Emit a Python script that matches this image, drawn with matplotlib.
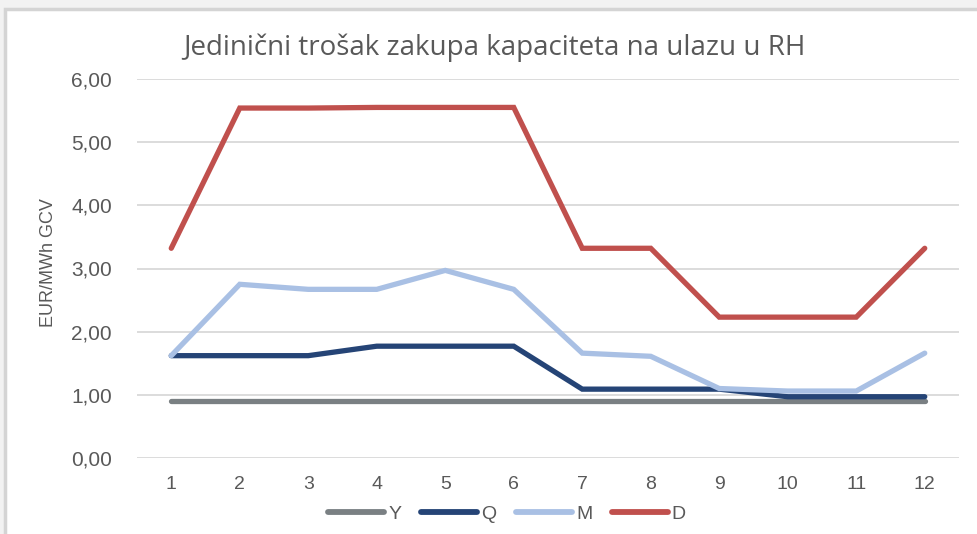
import matplotlib.pyplot as plt
from matplotlib.patches import Rectangle

months = list(range(1, 13))
month_labels = [str(m) for m in months]
y_vals = [0.91] * 12
q_vals = [1.62, 1.62, 1.62, 1.77, 1.77, 1.77, 1.09, 1.09, 1.09, 0.97, 0.97, 0.97]
m_vals = [1.62, 2.75, 2.67, 2.67, 2.97, 2.67, 1.66, 1.61, 1.10, 1.06, 1.06, 1.66]
d_vals = [3.32, 5.54, 5.54, 5.55, 5.55, 5.55, 3.32, 3.32, 2.23, 2.23, 2.23, 3.32]

series = [("Y", y_vals, "#7a8083"), ("Q", q_vals, "#254476"),
          ("M", m_vals, "#a9c0e4"), ("D", d_vals, "#c0504d")]

W, H = 978, 534
fig = plt.figure(figsize=(W / 100, H / 100), dpi=100, facecolor="#f2f2f2")
# white chart area with light frame
fig.patches.append(Rectangle((5 / W, -0.1), 1, 1.1 - 9 / H, transform=fig.transFigure,
                             facecolor="white", edgecolor="#d4d4d4", linewidth=2.5, zorder=-10))

ax = fig.add_axes([137 / W, (H - 458) / H, (959 - 137) / W, (458 - 79) / H])
ax.set_facecolor("none")
for name, vals, col in series:
    ax.plot(months, vals, color=col, linewidth=3.8, solid_capstyle="round",
            solid_joinstyle="miter", label=name)

ax.set_xlim(0.5, 12.5)
ax.set_ylim(0, 6)
ax.set_yticks(range(0, 7))
ax.set_yticklabels([f"{v},00" for v in range(0, 7)])
ax.set_xticks(months)
ax.set_xticklabels(month_labels)
ax.grid(axis="y", color="#d9d9d9", linewidth=1.3)
ax.set_axisbelow(True)
for s in ax.spines.values():
    s.set_visible(False)
ax.tick_params(length=0, labelsize=14, labelcolor="#595959")
ax.tick_params(axis="y", labelsize=15, pad=18)
ax.tick_params(axis="x", pad=13)
for lab in ax.get_xticklabels() + ax.get_yticklabels():
    lab.set_fontfamily("Liberation Sans")

ax.set_ylabel("EUR/MWh GCV", fontsize=13, color="#595959", family="Liberation Sans")
ax.yaxis.set_label_coords(-0.097, 0.515)
fig.text(494 / W, 1 - 48 / H, "Jedinični trošak zakupa kapaciteta na ulazu u RH",
         ha="center", va="center", fontsize=20, color="#595959", family="Open Sans")

leg = ax.legend(loc="center", bbox_to_anchor=(507 / W, 1 - 514 / H), bbox_transform=fig.transFigure,
                ncol=4, frameon=False, handlelength=2.9, handletextpad=0.2, columnspacing=1.0,
                prop={"family": "Liberation Sans", "size": 14}, labelcolor="#595959")
for h in leg.get_lines():
    h.set_linewidth(4.2)

fig.savefig("out.png", dpi=100, facecolor=fig.get_facecolor())
